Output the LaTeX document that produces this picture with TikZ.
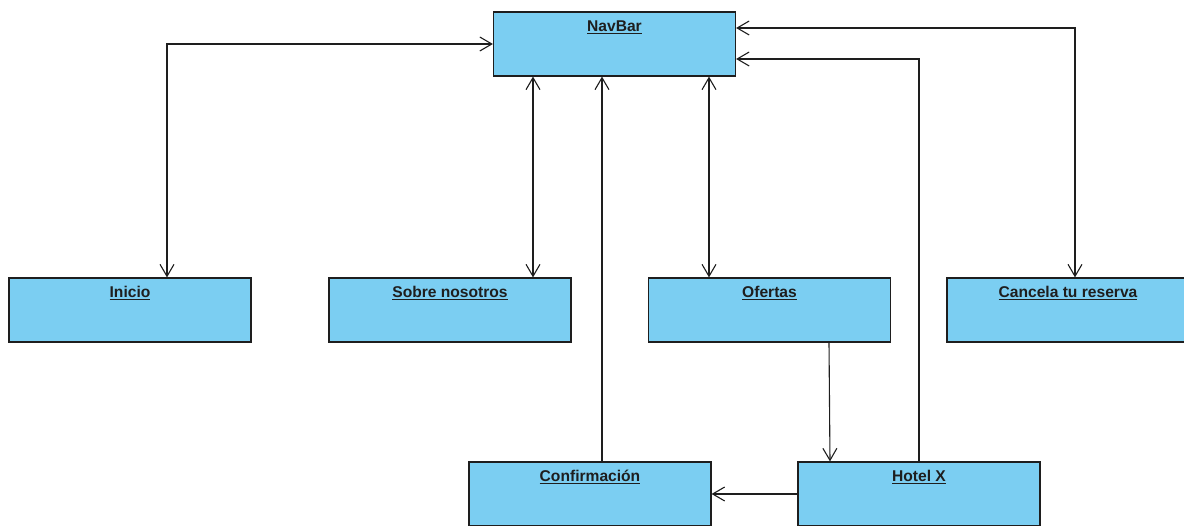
\documentclass[tikz,border=0pt]{standalone}
\usepackage{fontspec}
\setmainfont{Liberation Sans}
\usetikzlibrary{arrows.meta}
\definecolor{boxfill}{RGB}{123,206,242}
\definecolor{ink}{RGB}{30,30,30}
\begin{document}
\begin{tikzpicture}[x=1pt,y=-1pt,
  title/.style={anchor=base,inner sep=0pt,font=\fontsize{15.6}{18}\selectfont\bfseries,text=ink},
  page/.style={draw=ink,line width=1.2pt,fill=boxfill,minimum width=242pt,minimum height=64pt,
    inner sep=0pt,label={[title,label distance=-20pt]north:\underline{#1}}},
  link/.style={draw=ink,line width=1.1pt},
  tip/.tip={Straight Barb[length=12pt,width=14pt,line width=1.1pt]},
  one/.style={link,-tip},
  both/.style={link,tip-tip}]
\useasboundingbox (0,0) rectangle (1184,526);
\clip (0,0) rectangle (1184,526);

% pages
\node[page=NavBar] (nav) at (614.5,44) {};
\node[page=Inicio] (ini) at (130,310) {};
\node[page=Sobre nosotros] (sob) at (450,310) {};
\node[page=Ofertas] (ofe) at (769.5,310) {};
\node[page=Cancela tu reserva] (can) at (1068,310) {};
\node[page=Confirmación] (con) at (590,494) {};
\node[page=Hotel X] (hot) at (919,494) {};

% navigation between the bar and the sections
\draw[both] ([xshift=37pt]ini.north) |- (nav.west);
\draw[both] ([xshift=83pt]sob.north) -- ([xshift=83pt]sob.north |- nav.south);
\draw[both] ([xshift=-60.5pt]ofe.north) -- ([xshift=-60.5pt]ofe.north |- nav.south);
\draw[both] ([yshift=16pt]nav.east) -| ([xshift=7pt]can.north);

% booking flow
\draw[one] ([xshift=59.5pt]ofe.south) -- ([xshift=-89pt]hot.north);
\draw[one] (hot.west) -- (con.east);
\draw[one] (hot.north) |- ([yshift=-15pt]nav.east);
\draw[one] ([xshift=12pt]con.north) -- ([xshift=12pt]con.north |- nav.south);
\end{tikzpicture}
\end{document}
